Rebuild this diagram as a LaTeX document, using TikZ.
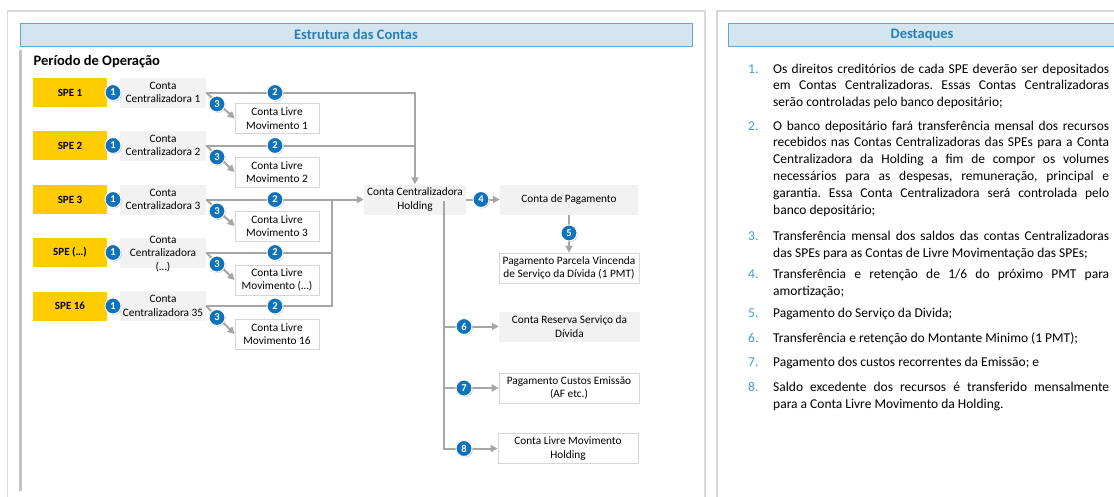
\documentclass[tikz,border=0pt]{standalone}
\usepackage{fontspec}
\setmainfont{Carlito}
\usetikzlibrary{arrows.meta,shadows}
\definecolor{speyellow}{HTML}{FFCC00}
\definecolor{boxgray}{HTML}{F2F2F2}
\definecolor{boxline}{HTML}{D6D6D6}
\definecolor{flowgray}{HTML}{A6A6A6}
\definecolor{numblue}{HTML}{1073BA}
\definecolor{headfill}{HTML}{D2E5F0}
\definecolor{headline}{HTML}{62A9D0}
\definecolor{headtext}{HTML}{2A7EB2}
\definecolor{listblue}{HTML}{3C9AD0}
\definecolor{panelgray}{HTML}{D9D9D9}
\definecolor{bargray}{HTML}{C4C4C4}
\frenchspacing
\begin{document}
\begin{tikzpicture}[x=1pt,y=-1pt,
 panel/.style={draw=panelgray,line width=1.2pt},
 headbar/.style={fill=headfill,draw=headline,line width=1pt,minimum height=23pt,inner sep=0pt,text=headtext,font=\fontsize{14.5}{16}\selectfont\bfseries},
 spe/.style={fill=speyellow,minimum width=74pt,minimum height=29pt,inner sep=0pt,font=\fontsize{11}{12}\selectfont\bfseries},
 ccbox/.style={fill=boxgray,minimum width=86pt,minimum height=30pt,inner sep=1pt,align=center,font=\fontsize{11.3}{13.3}\selectfont},
 lmbox/.style={fill=white,draw=boxline,line width=0.7pt,minimum width=84pt,minimum height=30pt,inner sep=1pt,align=center,font=\fontsize{11.3}{13.3}\selectfont},
 flow/.style={draw=flowgray,line width=2pt},
 arr/.style={flow,-{Triangle[length=7pt,width=7pt]}},
 num/.style={circle,fill=numblue,draw=white,line width=1pt,minimum size=16pt,inner sep=0pt,text=white,font=\fontsize{10.5}{11}\selectfont\bfseries,drop shadow={opacity=0.35,shadow xshift=1pt,shadow yshift=-1pt}},
 desc/.style={anchor=base west,text width=336pt,align=justify,inner sep=0pt,font=\fontsize{13.5}{16.8}\selectfont},
 dnum/.style={anchor=base west,inner sep=0pt,text=listblue,font=\fontsize{13.5}{16.8}\selectfont}]
\useasboundingbox (0,0) rectangle (1114,496);
\draw[panel] (7.5,11) rectangle (705,510);
\draw[panel] (717,11) rectangle (1130,510);
\draw[bargray,line width=3pt] (20.5,50) -- (20.5,491);
\node[headbar,minimum width=672pt] (hleft) at (356,34.5) {Estrutura das Contas};
\node[headbar,minimum width=388pt] (hright) at (922,34.5) {Destaques};
\node[anchor=west,inner sep=0pt,font=\fontsize{14.5}{16}\selectfont\bfseries] (periodo) at (33.5,61.5) {Período de Operação};

\node[spe] (spe1) at (70,92.5) {SPE 1};
\node[spe] (spe2) at (70,145.5) {SPE 2};
\node[spe] (spe3) at (70,199.5) {SPE 3};
\node[spe] (spe4) at (70,252.5) {SPE (…)};
\node[spe] (spe5) at (70,306) {SPE 16};

\node[ccbox] (cc1) at (163,92.5) {Conta\\Centralizadora 1};
\node[ccbox] (cc2) at (163,145.5) {Conta\\Centralizadora 2};
\node[ccbox] (cc3) at (163,199.5) {Conta\\Centralizadora 3};
\node[ccbox] (cc4) at (163,252.5) {\raisebox{-9pt}{\smash{\begin{tabular}{@{}c@{}}Conta\\Centralizadora\\(…)\end{tabular}}}};
\node[ccbox] (cc5) at (163,306) {Conta\\Centralizadora 35};

\node[lmbox] (lm1) at (277,118.5) {Conta Livre\\Movimento 1};
\node[lmbox] (lm2) at (277,172) {Conta Livre\\Movimento 2};
\node[lmbox] (lm3) at (277,226) {Conta Livre\\Movimento 3};
\node[lmbox] (lm4) at (277,280) {Conta Livre\\Movimento (…)};
\node[lmbox] (lm5) at (277,334) {Conta Livre\\Movimento 16};

\node[ccbox,minimum width=102pt] (hold) at (415,199.5) {Conta Centralizadora\\Holding};
\node[ccbox,minimum width=138pt] (pag) at (569,199.5) {Conta de Pagamento};
\node[lmbox,minimum width=140pt] (parc) at (569,268) {Pagamento Parcela Vincenda\\de Serviço da Dívida (1 PMT)};
\node[ccbox,minimum width=141pt] (res) at (569.5,326.5) {Conta Reserva Serviço da\\Dívida};
\node[lmbox,minimum width=140pt] (cust) at (569,388) {Pagamento Custos Emissão\\(AF etc.)};
\node[lmbox,minimum width=140pt] (lmh) at (568,448.5) {Conta Livre Movimento\\Holding};

\coordinate (jn) at (332,199.5);
\coordinate (hv) at (444,201);

\draw[arr] (cc1.east) -| (hold.north);
\draw[flow] (cc2.east) -- (cc2.east -| hold.north);
\draw[arr] (cc3.east) -- (hold.west);
\draw[flow] (cc4.east) -| (jn);
\draw[flow] (cc5.east) -| (jn);
\draw[arr] (cc1.east) -- (lm1.west);
\draw[arr] (cc2.east) -- (lm2.west);
\draw[arr] (cc3.east) -- (lm3.west);
\draw[arr] (cc4.east) -- (lm4.west);
\draw[arr] (cc5.east) -- (lm5.west);
\draw[arr] (hold.east) -- (pag.west);
\draw[arr] (pag.south) -- (parc.north);
\draw[arr] (hv) |- (res.west);
\draw[arr] (hv) |- (cust.west);
\draw[arr] (hv) |- (lmh.west);

\node[num] (a1) at (113,92.5) {1};
\node[num] (a2) at (113,145.5) {1};
\node[num] (a3) at (113,199.5) {1};
\node[num] (a4) at (113,252.5) {1};
\node[num] (a5) at (113,306) {1};
\node[num] (b1) at (275,92.5) {2};
\node[num] (b2) at (275,145.5) {2};
\node[num] (b3) at (275,199.5) {2};
\node[num] (b4) at (275,252.5) {2};
\node[num] (b5) at (275,306) {2};
\node[num] (c1) at (217,104) {3};
\node[num] (c2) at (217,157) {3};
\node[num] (c3) at (217,211) {3};
\node[num] (c4) at (217,264) {3};
\node[num] (c5) at (217,317.5) {3};
\node[num] (d4) at (481,199.5) {4};
\node[num] (d5) at (569,233) {5};
\node[num] (d6) at (464,326.5) {6};
\node[num] (d7) at (464,388) {7};
\node[num] (d8) at (464,448.5) {8};

\node[dnum] (n1) at (748,73) {1.};
\node[desc] (t1) at (773,73) {Os direitos creditórios de cada SPE deverão ser depositados\linebreak em Contas Centralizadoras. Essas Contas Centralizadoras\linebreak serão controladas pelo banco depositário;};
\node[dnum] (n2) at (748,130) {2.};
\node[desc] (t2) at (773,130) {O banco depositário fará transferência mensal dos recursos\linebreak recebidos nas Contas Centralizadoras das SPEs para a Conta\linebreak Centralizadora da Holding a fim de compor os volumes\linebreak necessários para as despesas, remuneração, principal e\linebreak garantia. Essa Conta Centralizadora será controlada pelo\linebreak banco depositário;};
\node[dnum] (n3) at (748,240.5) {3.};
\node[desc] (t3) at (773,240.5) {Transferência mensal dos saldos das contas Centralizadoras\linebreak das SPEs para as Contas de Livre Movimentação das SPEs;};
\node[dnum] (n4) at (748,278.5) {4.};
\node[desc] (t4) at (773,278.5) {Transferência e retenção de 1/6 do próximo PMT para\linebreak amortização;};
\node[dnum] (n5) at (748,317.5) {5.};
\node[desc] (t5) at (773,317.5) {Pagamento do Serviço da Divida;};
\node[dnum] (n6) at (748,342) {6.};
\node[desc] (t6) at (773,342) {Transferência e retenção do Montante Minimo (1 PMT);};
\node[dnum] (n7) at (748,366.5) {7.};
\node[desc] (t7) at (773,366.5) {Pagamento dos custos recorrentes da Emissão; e};
\node[dnum] (n8) at (748,391.5) {8.};
\node[desc] (t8) at (773,391.5) {Saldo excedente dos recursos é transferido mensalmente\linebreak para a Conta Livre Movimento da Holding.};
\end{tikzpicture}
\end{document}
